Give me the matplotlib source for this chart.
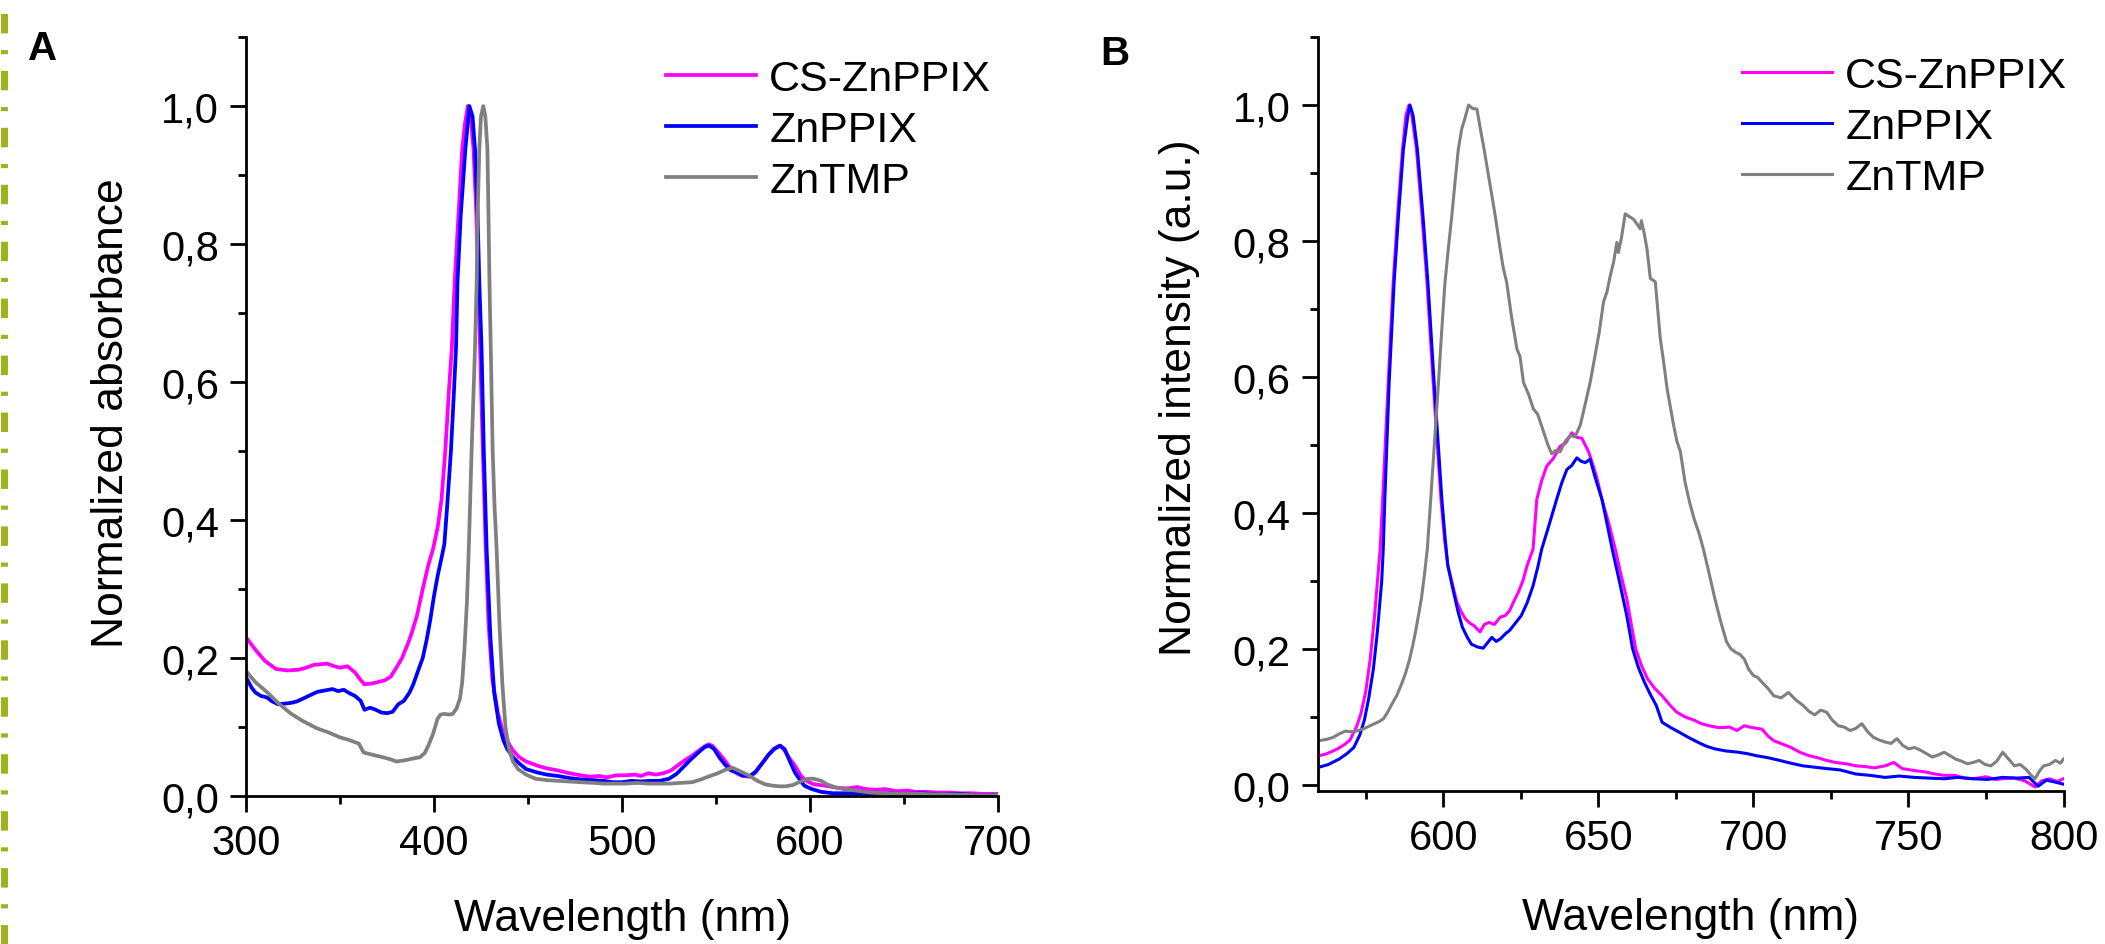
"""Normalized absorbance (A) and emission (B) spectra of CS-ZnPPIX, ZnPPIX, ZnTMP."""
import matplotlib
matplotlib.use("Agg")
import matplotlib.pyplot as plt
from matplotlib.lines import Line2D
from matplotlib.ticker import FuncFormatter, MultipleLocator


LABELS = ["CS-ZnPPIX", "ZnPPIX", "ZnTMP"]
COLORS = ["#ff00ff", "#0000ff", "#808080"]

# ---- panel A: absorbance ----
abs_cs_nm = [300, 305, 310, 316, 322, 328, 332, 336, 340, 343, 347, 350, 354, 358, 361, 363,
             367, 370, 374, 377, 380, 383, 386, 388, 391, 394, 397, 399.5, 402, 404, 406, 408,
             409.5, 411, 413, 415, 416.5, 418, 419.5, 421, 422.5, 423.5, 424.5, 426, 427.5, 429,
             431, 434, 437, 440, 442, 445, 449, 455, 460, 466, 472, 478, 483, 488, 492, 497, 502,
             507, 510, 514, 518, 522, 526, 530, 534, 537, 541, 544, 546, 548, 551, 554, 557, 561,
             564, 568, 571, 575, 578, 581, 584, 586, 589, 592, 595, 598, 602, 608, 614, 620, 625,
             630, 635, 640, 646, 652, 656, 662, 668, 674, 680, 686, 692, 700]
abs_cs = [0.230, 0.212, 0.196, 0.184, 0.182, 0.183, 0.186, 0.190, 0.191, 0.192, 0.188, 0.186,
          0.188, 0.179, 0.168, 0.162, 0.163, 0.165, 0.168, 0.173, 0.186, 0.200, 0.220, 0.235,
          0.262, 0.300, 0.335, 0.358, 0.390, 0.430, 0.500, 0.590, 0.650, 0.745, 0.841, 0.938,
          0.975, 1.000, 0.985, 0.938, 0.845, 0.745, 0.648, 0.500, 0.360, 0.250, 0.170, 0.120,
          0.090, 0.075, 0.066, 0.057, 0.050, 0.044, 0.040, 0.037, 0.033, 0.030, 0.028, 0.029,
          0.027, 0.030, 0.030, 0.031, 0.029, 0.033, 0.031, 0.033, 0.037, 0.045, 0.053, 0.058,
          0.066, 0.072, 0.075, 0.073, 0.064, 0.054, 0.043, 0.033, 0.029, 0.028, 0.034, 0.049,
          0.060, 0.069, 0.073, 0.068, 0.055, 0.044, 0.030, 0.022, 0.017, 0.015, 0.012, 0.011,
          0.013, 0.010, 0.009, 0.010, 0.007, 0.008, 0.006, 0.006, 0.005, 0.005, 0.004, 0.004,
          0.003, 0.003]

abs_zn_nm = [300, 303, 305, 308, 311, 314, 317, 321, 324, 327, 331, 334, 338, 342, 346, 349, 352,
             355, 358, 361, 363, 366, 369, 372, 375, 378, 381, 384, 387, 389, 392, 394, 396, 398,
             400, 402, 404, 405.5, 407, 409, 410.5, 411.7, 412.5, 414.2, 416.7, 418.8, 420.5,
             421.8, 423.2, 424.1, 425.3, 426.5, 428, 430, 432, 434.5, 437, 439, 442, 445, 449,
             455, 460, 466, 472, 478, 484, 490, 495, 500, 505, 510, 515, 520, 525, 529, 533, 537,
             541, 544, 546.5, 549, 552, 555, 558, 561, 564, 568, 571, 575, 578, 581, 584, 586.5,
             589, 592, 595, 597, 601, 606, 612, 620, 630, 640, 650, 660, 670, 680, 690, 700]
abs_zn = [0.172, 0.157, 0.150, 0.145, 0.143, 0.137, 0.133, 0.134, 0.135, 0.137, 0.142, 0.146,
          0.151, 0.153, 0.155, 0.152, 0.154, 0.149, 0.145, 0.138, 0.125, 0.128, 0.125, 0.121,
          0.120, 0.122, 0.133, 0.138, 0.150, 0.162, 0.185, 0.200, 0.225, 0.255, 0.290, 0.320,
          0.345, 0.365, 0.420, 0.500, 0.580, 0.648, 0.745, 0.841, 0.938, 1.000, 0.985, 0.938,
          0.841, 0.745, 0.648, 0.500, 0.358, 0.230, 0.150, 0.105, 0.080, 0.068, 0.056, 0.048,
          0.039, 0.034, 0.031, 0.029, 0.026, 0.024, 0.023, 0.022, 0.020, 0.020, 0.022, 0.021,
          0.022, 0.022, 0.025, 0.032, 0.043, 0.054, 0.064, 0.071, 0.073, 0.068, 0.055, 0.045,
          0.037, 0.034, 0.030, 0.029, 0.035, 0.049, 0.060, 0.068, 0.073, 0.068, 0.052, 0.034,
          0.022, 0.015, 0.010, 0.006, 0.004, 0.004, 0.003, 0.004, 0.003, 0.004, 0.002, 0.003,
          0.001, 0.001]

abs_tmp_nm = [300, 305, 311, 317, 323.6, 330, 337.8, 344, 350, 355, 360, 362.6, 367, 373, 377,
              380, 385, 390, 392.4, 395, 397, 399.5, 401.9, 403.5, 405.5, 408, 410, 412, 413.8,
              415, 416.2, 417.5, 418.5, 420, 421.8, 422.7, 423.2, 424.1, 425, 426.2, 427.3, 428.4,
              429.0, 429.5, 430.2, 431.2, 432.2, 433.3, 434.8, 436.3, 438, 439.9, 442, 444.7, 449,
              454, 460, 466, 472, 478, 485, 490, 496, 502, 508, 514, 520, 525.4, 531, 537.3, 542,
              546.8, 551, 555, 558.7, 562, 565, 568, 572, 576, 580, 584, 587, 591, 595, 599, 602,
              606, 609, 613, 618, 624, 632, 640, 650, 660, 670, 680, 690, 700]
abs_tmp = [0.181, 0.165, 0.151, 0.135, 0.120, 0.109, 0.098, 0.092, 0.085, 0.081, 0.076, 0.063,
           0.060, 0.056, 0.053, 0.050, 0.052, 0.055, 0.056, 0.062, 0.073, 0.090, 0.112, 0.118,
           0.119, 0.118, 0.119, 0.127, 0.141, 0.165, 0.213, 0.280, 0.358, 0.500, 0.648, 0.745,
           0.841, 0.938, 0.985, 1.000, 0.985, 0.938, 0.841, 0.745, 0.648, 0.500, 0.420, 0.358,
           0.250, 0.165, 0.100, 0.068, 0.050, 0.039, 0.031, 0.025, 0.023, 0.022, 0.021, 0.020,
           0.019, 0.018, 0.018, 0.018, 0.019, 0.018, 0.018, 0.018, 0.019, 0.020, 0.024, 0.029,
           0.033, 0.038, 0.041, 0.037, 0.033, 0.029, 0.022, 0.017, 0.015, 0.014, 0.014, 0.016,
           0.021, 0.025, 0.025, 0.022, 0.017, 0.013, 0.010, 0.008, 0.005, 0.004, 0.003, 0.003,
           0.002, 0.002, 0.001, 0.001]

# ---- panel B: emission ----
em_cs_nm = [560, 562, 564.6, 566, 568.4, 570, 572.2, 573.5, 575, 576.5, 577.9, 579.7, 580.5,
            582.3, 583.9, 585.3, 586.9, 588, 589, 589.6, 591.4, 593.2, 594.8, 596.8, 599.3, 600.5,
            601.5, 603, 604.4, 605.8, 607.2, 608.6, 610, 611.9, 613.3, 614.8, 616.5, 618.5, 620,
            621.4, 622.8, 624.2, 625.7, 627.1, 629, 630.2, 631.8, 633.4, 635.5, 637.7, 639.5,
            641.5, 643.2, 644.7, 646.9, 648.2, 649.6, 651.2, 653.4, 655.5, 657.3, 659.2, 660.7,
            662.1, 664.0, 665.9, 668.2, 670.6, 673, 675.3, 678, 681, 683.3, 685.7, 689, 692.4,
            694.7, 697.1, 700, 702.8, 704.7, 706.6, 709.4, 712.2, 715, 717.9, 720.7, 723.6, 726.4,
            730, 733, 736, 739, 742.5, 745.3, 748, 752, 755.5, 758.5, 761.5, 765, 768, 771, 775,
            778, 780.4, 784, 787.5, 790.8, 793, 795.5, 798, 800]
em_cs = [0.043, 0.045, 0.050, 0.053, 0.060, 0.066, 0.087, 0.105, 0.136, 0.185, 0.249, 0.347,
         0.420, 0.592, 0.739, 0.837, 0.935, 0.985, 1.000, 0.995, 0.935, 0.837, 0.739, 0.592,
         0.420, 0.360, 0.323, 0.295, 0.269, 0.255, 0.244, 0.238, 0.234, 0.225, 0.236, 0.239,
         0.236, 0.247, 0.249, 0.256, 0.270, 0.283, 0.300, 0.323, 0.347, 0.420, 0.448, 0.469,
         0.480, 0.498, 0.503, 0.518, 0.511, 0.510, 0.490, 0.472, 0.451, 0.420, 0.385, 0.347,
         0.310, 0.274, 0.235, 0.200, 0.175, 0.156, 0.142, 0.131, 0.118, 0.107, 0.100, 0.095,
         0.090, 0.087, 0.084, 0.085, 0.080, 0.087, 0.084, 0.082, 0.072, 0.065, 0.060, 0.055,
         0.048, 0.043, 0.040, 0.036, 0.033, 0.031, 0.028, 0.027, 0.025, 0.028, 0.033, 0.024,
         0.021, 0.019, 0.016, 0.014, 0.014, 0.010, 0.009, 0.012, 0.008, 0.009, 0.010, 0.006,
         -0.003, 0.006, 0.009, 0.005, 0.009]

em_zn_nm = [560, 563, 566.5, 569, 571.2, 573.1, 574.6, 576, 577.5, 578.8, 580.2, 580.7, 581.2,
            582.6, 584.2, 585.6, 587.2, 588.6, 589.3, 590.3, 591.7, 593.5, 595.1, 597.1, 599.6,
            600.6, 601.5, 603.4, 604.8, 606.2, 607.7, 609.1, 611, 612.9, 614.3, 615.7, 617.1,
            618.5, 620, 621.4, 623.3, 625.2, 627.1, 629, 630.5, 631.8, 634, 636.6, 638.3, 639.9,
            641.5, 643.1, 644.5, 645.8, 647.4, 649.1, 651.2, 652.8, 654.5, 656.8, 659.2, 661.1,
            663, 664.9, 666.8, 668.7, 670.6, 673.5, 676.3, 679, 682, 684.8, 687.6, 691, 695.2,
            698, 700.9, 704.7, 708.5, 712, 716, 719.8, 723.6, 728, 733, 737.7, 742.5, 747, 752,
            756.5, 761.5, 766, 771, 775.5, 780.4, 785, 788.9, 791.8, 794.5, 797.4, 800]
em_zn = [0.026, 0.030, 0.038, 0.046, 0.055, 0.073, 0.095, 0.127, 0.170, 0.225, 0.300, 0.347,
         0.420, 0.592, 0.739, 0.837, 0.935, 0.984, 1.000, 0.985, 0.935, 0.837, 0.739, 0.592,
         0.420, 0.365, 0.323, 0.283, 0.255, 0.232, 0.218, 0.207, 0.203, 0.201, 0.209, 0.217,
         0.211, 0.215, 0.222, 0.227, 0.238, 0.249, 0.268, 0.293, 0.320, 0.347, 0.380, 0.420,
         0.445, 0.464, 0.470, 0.481, 0.476, 0.474, 0.479, 0.451, 0.420, 0.385, 0.347, 0.300,
         0.249, 0.200, 0.172, 0.151, 0.133, 0.117, 0.092, 0.084, 0.077, 0.070, 0.063, 0.057,
         0.053, 0.050, 0.048, 0.046, 0.043, 0.040, 0.036, 0.032, 0.028, 0.026, 0.024, 0.022,
         0.016, 0.014, 0.011, 0.013, 0.011, 0.010, 0.009, 0.011, 0.009, 0.008, 0.011, 0.010,
         0.011, -0.002, 0.007, 0.004, 0.001]

em_tmp_nm = [560, 562.5, 564.6, 566.5, 568.4, 571, 574.1, 576, 577.9, 579.3, 580.7, 582, 583.5,
             585, 586.4, 587.8, 589.2, 590.2, 591.1, 592, 593, 594, 594.9, 596, 597.3, 598.5,
             599.5, 600.6, 601.7, 602.8, 603.8, 604.9, 606, 607, 608.2, 609.5, 610.9, 612, 613.2,
             614.5, 615.6, 616.8, 618.4, 619.4, 620.5, 622, 623.8, 624.8, 625.9, 627.5, 629.1,
             630.5, 632.4, 633.8, 635, 636.3, 637.7, 639.3, 641, 642.5, 644.2, 645.8, 647.4, 649,
             650.3, 651.7, 652.8, 653.9, 655, 656, 656.5, 657.5, 658.7, 660, 661.4, 662.5, 663.5,
             663.9, 664.8, 665.7, 666.8, 668.4, 670, 671, 672.2, 673.3, 674.3, 675.4, 676.5, 678,
             679.5, 681, 682.5, 683.9, 685.8, 687.6, 689.5, 691.4, 692.8, 694.3, 695.7, 697.1,
             698.5, 700, 701.4, 702.8, 704.7, 706.6, 709, 711.3, 713.7, 716, 718, 719.8, 721.7,
             723.6, 725.5, 727.4, 729.3, 731.2, 733, 735, 736.9, 738.7, 740.6, 742.5, 744.4,
             746.3, 748.2, 750.1, 752, 753.9, 755.8, 757.7, 759.6, 761.5, 763.4, 765.2, 767.1, 769,
             770.9, 772.8, 774.7, 776.6, 778.5, 780.4, 782.3, 784.2, 786, 787.9, 789.4, 790.8,
             792.2, 793.6, 795.5, 797.4, 799, 800]
em_tmp = [0.065, 0.067, 0.070, 0.075, 0.079, 0.078, 0.082, 0.086, 0.090, 0.093, 0.097, 0.106,
          0.119, 0.131, 0.146, 0.163, 0.185, 0.205, 0.225, 0.248, 0.274, 0.310, 0.347, 0.420,
          0.510, 0.592, 0.665, 0.739, 0.790, 0.837, 0.885, 0.935, 0.965, 0.980, 1.000, 0.995,
          0.994, 0.965, 0.935, 0.900, 0.870, 0.837, 0.788, 0.760, 0.739, 0.690, 0.641, 0.630,
          0.592, 0.575, 0.553, 0.545, 0.519, 0.500, 0.487, 0.492, 0.490, 0.505, 0.514, 0.512,
          0.529, 0.560, 0.592, 0.632, 0.665, 0.710, 0.725, 0.749, 0.770, 0.798, 0.783, 0.805,
          0.840, 0.836, 0.832, 0.825, 0.818, 0.830, 0.812, 0.789, 0.745, 0.740, 0.657, 0.625,
          0.583, 0.555, 0.529, 0.505, 0.490, 0.445, 0.415, 0.390, 0.370, 0.347, 0.310, 0.274,
          0.240, 0.210, 0.200, 0.195, 0.192, 0.185, 0.170, 0.161, 0.158, 0.151, 0.142, 0.131,
          0.128, 0.136, 0.125, 0.117, 0.108, 0.103, 0.110, 0.107, 0.095, 0.087, 0.085, 0.080,
          0.083, 0.090, 0.078, 0.070, 0.066, 0.063, 0.061, 0.068, 0.058, 0.053, 0.055, 0.051,
          0.046, 0.041, 0.044, 0.048, 0.043, 0.038, 0.035, 0.031, 0.033, 0.036, 0.030, 0.028,
          0.035, 0.048, 0.038, 0.028, 0.030, 0.023, 0.015, 0.009, 0.020, 0.028, 0.030, 0.036,
          0.032, 0.038]


def comma(v, _pos):
    return f"{v:.1f}".replace(".", ",")


def style_axes(ax, xmajor, xminor):
    for side in ("top", "right"):
        ax.spines[side].set_visible(False)
    for side in ("left", "bottom"):
        ax.spines[side].set_linewidth(2.0)
    ax.xaxis.set_major_locator(MultipleLocator(xmajor))
    ax.xaxis.set_minor_locator(MultipleLocator(xminor))
    ax.yaxis.set_major_locator(MultipleLocator(0.2))
    ax.yaxis.set_minor_locator(MultipleLocator(0.1))
    ax.yaxis.set_major_formatter(FuncFormatter(comma))
    ax.tick_params(which="major", direction="out", length=11.5, width=2.0,
                   labelsize=30, pad=8)
    ax.tick_params(which="minor", direction="out", length=5.5, width=2.0)


def add_legend(ax, fig, x_px, y_px):
    ax.legend(loc="upper left", bbox_to_anchor=(x_px / 2105, 1 - y_px / 945),
              bbox_transform=fig.transFigure, frameon=False, fontsize=31,
              handlelength=2.1, handletextpad=0.3, labelspacing=0.26,
              borderpad=0, borderaxespad=0)


def main() -> None:
    plt.rcParams["font.family"] = ["Liberation Sans", "DejaVu Sans"]
    plt.rcParams["lines.scale_dashes"] = False
    fig = plt.figure(figsize=(21.05, 9.45), dpi=100)

    # panel A
    ax1 = fig.add_axes([246 / 2105, 1 - 797 / 945, 752 / 2105, 759 / 945])
    for nm, val, lab, col in zip([abs_cs_nm, abs_zn_nm, abs_tmp_nm], [abs_cs, abs_zn, abs_tmp],
                                 LABELS, COLORS):
        ax1.plot(nm, val, color=col, lw=2.7, label=lab)
    ax1.set_xlim(300, 700)
    ax1.set_ylim(0, 1.1001)
    style_axes(ax1, 100, 50)
    ax1.set_xlabel("Wavelength (nm)", fontsize=32)
    ax1.set_ylabel("Normalized absorbance", fontsize=32)
    ax1.xaxis.set_label_coords(0.5, -0.135)
    ax1.yaxis.set_label_coords(-0.152, 0.506)
    add_legend(ax1, fig, 666, 60)

    # panel B
    ax2 = fig.add_axes([1317.5 / 2105, 1 - 792 / 945, 746 / 2105, 754 / 945])
    for nm, val, lab, col in zip([em_cs_nm, em_zn_nm, em_tmp_nm], [em_cs, em_zn, em_tmp],
                                 LABELS, COLORS):
        ax2.plot(nm, val, color=col, lw=2.2, label=lab)
    ax2.set_xlim(559.5, 800)
    ax2.set_ylim(-0.009, 1.1001)
    style_axes(ax2, 50, 25)
    ax2.set_xlabel("Wavelength (nm)", fontsize=32)
    ax2.set_ylabel("Normalized intensity (a.u.)", fontsize=32)
    ax2.xaxis.set_label_coords(0.5, -0.14)
    ax2.yaxis.set_label_coords(-0.157, 0.523)
    add_legend(ax2, fig, 1742, 57)

    # panel letters and the dash-dot separator on the left edge
    fig.text(28 / 2105, 1 - 60 / 945, "A", fontsize=29, fontweight="bold", va="baseline")
    fig.text(1100 / 2105, 1 - 65 / 945, "B", fontsize=29, fontweight="bold", va="baseline")
    fig.add_artist(Line2D([4 / 2105, 4 / 2105], [0, 1], transform=fig.transFigure,
                          color="#9db31c", lw=5, dashes=(14, 12, 3, 12)))

    fig.savefig("out.png", dpi=100)
    plt.close(fig)


if __name__ == "__main__":
    main()
